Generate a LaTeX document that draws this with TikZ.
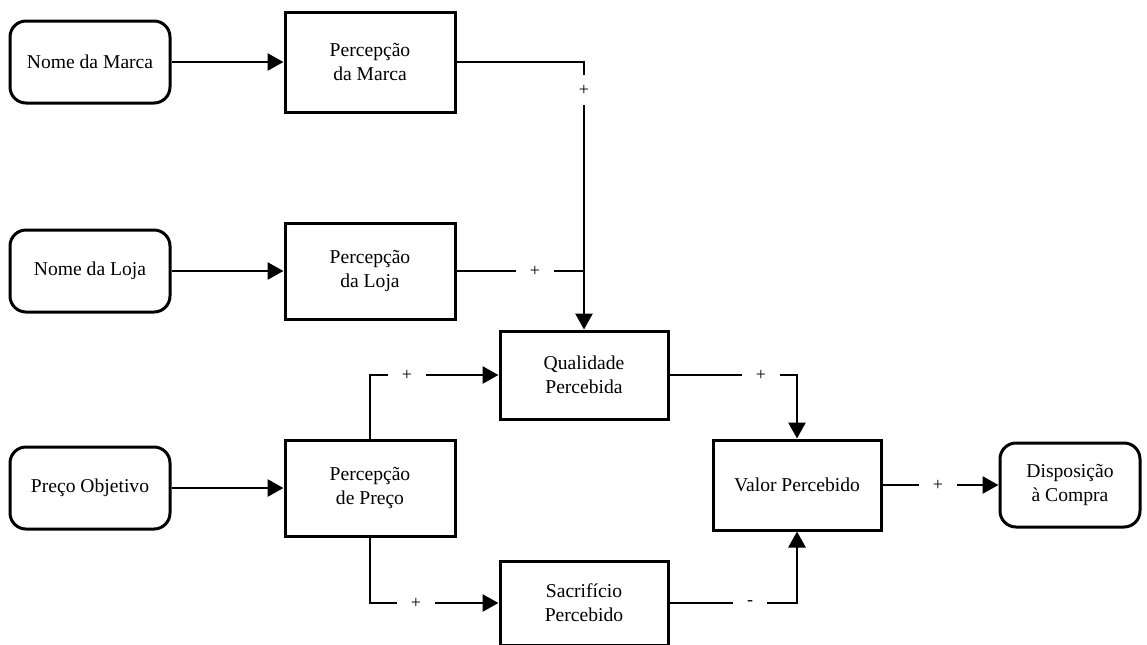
\documentclass[tikz,border=0pt]{standalone}
\usepackage{fontspec}
\setmainfont{Liberation Serif}
\usetikzlibrary{arrows.meta}

\begin{document}
\begin{tikzpicture}[x=0.5pt, y=-0.5pt, line cap=butt, line join=miter,
  font=\fontsize{9.8}{12}\selectfont,
  box/.style={draw, line width=1.5pt, align=center, minimum width=85pt, inner sep=0pt},
  rbox/.style={box, rounded corners=8pt, minimum width=80pt, minimum height=41pt},
  wire/.style={line width=0.9pt},
  flow/.style={line width=1.4pt, -{Triangle[length=8pt,width=8.5pt]}},
  sign/.style={fill=white, inner xsep=7pt, inner ysep=5pt, font=\fontsize{9}{10}\selectfont}]

\useasboundingbox (0,0) rectangle (1147,644);

% Left column
\node[rbox] (nm) at (90,62) {Nome da Marca};
\node[rbox] (nl) at (90,271) {Nome da Loja};
\node[rbox] (po) at (90,488) {Preço Objetivo};

% Perceptions
\node[box, minimum height=50pt] (pm) at (370,62) {Percepção\\da Marca};
\node[box, minimum height=48pt] (pl) at (370,271) {Percepção\\da Loja};
\node[box, minimum height=48pt] (pp) at (370,488) {Percepção\\de Preço};

% Middle and right
\node[box, minimum width=84pt, minimum height=44pt] (qp) at (584,375) {Qualidade\\Percebida};
\node[box, minimum width=84pt, minimum height=42pt] (sp) at (584,603) {Sacrifício\\Percebido};
\node[box, minimum width=84pt, minimum height=45pt] (vp) at (797,485) {Valor Percebido};
\node[rbox, minimum width=70pt, minimum height=42pt] (dc) at (1070,485) {Disposição\\à Compra};

% Signs
\node[sign] (sA) at (584,90) {+};
\node[sign] (sB) at (535,271) {+};
\node[sign] (sC) at (761,375) {+};
\node[sign] (sD) at (938,485) {+};
\node[sign] (sE) at (407,375) {+};
\node[sign] (sF) at (416,603) {+};
\node[sign] (sG) at (750,603) {-};
\coordinate (jB) at (qp.north |- sB);

% Arrows
\draw[flow] (nm) -- (pm);
\draw[flow] (nl) -- (pl);
\draw[flow] (po) -- (pp);

\draw[wire] (pm.east) -| (sA);
\draw[flow] (sA) -- (qp.north);
\draw[wire] (pl.east) -- (sB);
\draw[wire] (sB) -- (jB);

\draw[wire] (pp.north) |- (sE);
\draw[flow] (sE) -- (qp.west);
\draw[wire] (pp.south) |- (sF);
\draw[flow] (sF) -- (sp.west);

\draw[wire] (qp.east) -- (sC);
\draw[flow] (sC) -| (vp.north);
\draw[wire] (sp.east) -- (sG);
\draw[flow] (sG) -| (vp.south);

\draw[wire] (vp.east) -- (sD);
\draw[flow] (sD) -- (dc.west);

\end{tikzpicture}
\end{document}
